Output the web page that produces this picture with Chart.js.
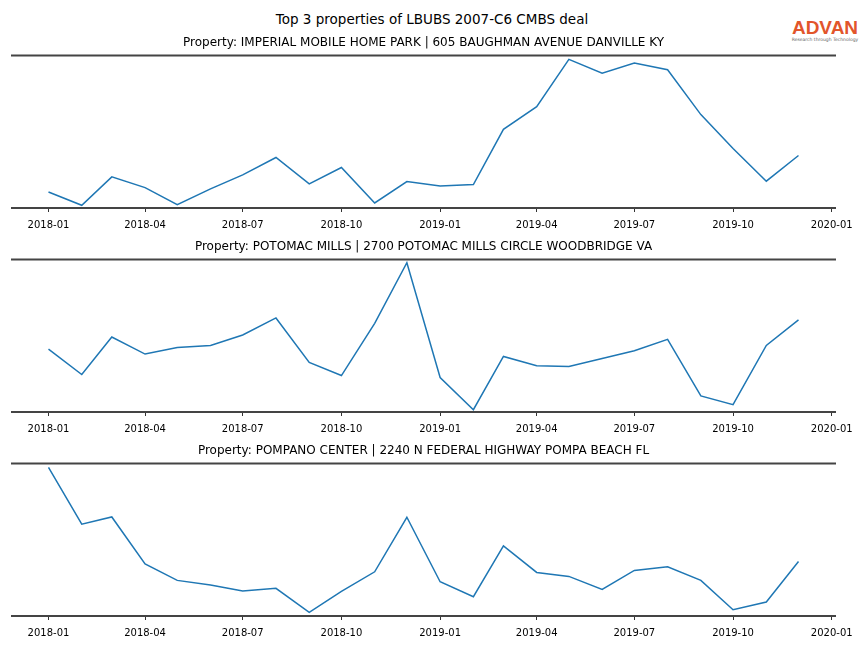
<!DOCTYPE html>
<html>
<head>
<meta charset="utf-8">
<script src="https://cdn.jsdelivr.net/npm/chart.js@4.4.1/dist/chart.umd.min.js"></script>
<style>
  html, body { margin: 0; padding: 0; background: #fff; }
  body { width: 864px; height: 648px; position: relative; overflow: hidden; font-family: 'DejaVu Sans', sans-serif; }
  #suptitle { position: absolute; left: 0; width: 864px; top: 11px; text-align: center; font-size: 13.5px; color: #000; }
  .logo { position: absolute; left: 789px; top: 18px; width: 72px; text-align: center; }
  .logo .name { font-family: 'Liberation Sans', Arial, sans-serif; font-size: 19px; font-weight: bold; line-height: 19px; color: #e2552b; }
  .logo .tag { font-size: 4.5px; line-height: 6px; color: #666; white-space: nowrap; }
  .panel { position: absolute; left: 0; }
</style>
</head>
<body>
<div id="suptitle">Top 3 properties of LBUBS 2007-C6 CMBS deal</div>
<div class="logo"><div class="name">ADVAN</div><div class="tag">Research through Technology</div></div>
<canvas class="panel" id="p0" width="864" height="201" style="top:31px"></canvas>
<canvas class="panel" id="p1" width="864" height="201" style="top:235px"></canvas>
<canvas class="panel" id="p2" width="864" height="201" style="top:439px"></canvas>
<script>
// monthly visits (no y axis shown, arbitrary units)
const months = ['2018-01','2018-02','2018-03','2018-04','2018-05','2018-06','2018-07','2018-08','2018-09','2018-10','2018-11','2018-12',
                '2019-01','2019-02','2019-03','2019-04','2019-05','2019-06','2019-07','2019-08','2019-09','2019-10','2019-11','2019-12'];
const tickMonths = ['2018-01','2018-04','2018-07','2018-10','2019-01','2019-04','2019-07','2019-10','2020-01'];

const imperial = [16, 2.7, 31, 20.3, 3.3, 19, 33, 50.3, 24, 40.3, 5, 26.3,
                  22, 23.3, 78.3, 101, 148, 134.3, 144.3, 137.7, 93, 59.3, 26.7, 52.3];
const potomac  = [62.7, 37.3, 74.7, 57.7, 64.3, 66.3, 76.7, 93.7, 49.3, 36.3, 88.3, 148.7,
                  34.3, 2.3, 55.3, 46, 45.3, 53.3, 61, 72.3, 16, 7.3, 66.3, 91.7];
const pompano  = [149, 92, 99.3, 52.3, 35.7, 31, 25, 27.7, 3.7, 24.7, 44.3, 99,
                  34.3, 19.3, 70.3, 43.7, 39.7, 26.7, 45.7, 49.3, 35.7, 6.3, 14, 54.7];

const titles = [
  'Property: IMPERIAL MOBILE HOME PARK | 605 BAUGHMAN AVENUE DANVILLE KY',
  'Property: POTOMAC MILLS | 2700 POTOMAC MILLS CIRCLE WOODBRIDGE VA',
  'Property: POMPANO CENTER | 2240 N FEDERAL HIGHWAY POMPA BEACH FL'
];
const series = [imperial, potomac, pompano];
const yTop = [152, 152, 153];

const dayOf = s => { const [y, m] = s.split('-').map(Number); return Date.UTC(y, m - 1, 1) / 864e5; };
const xs = months.map(dayOf);
const span = xs[xs.length - 1] - xs[0];
const xMin = xs[0] - 0.05 * span, xMax = xs[xs.length - 1] + 0.05 * span;

// top and bottom spines only
const spines = {
  id: 'spines',
  afterDatasetsDraw(chart) {
    const { ctx, chartArea: { left, right, top, bottom } } = chart;
    ctx.save();
    ctx.strokeStyle = '#444';
    ctx.lineWidth = 2;
    ctx.beginPath();
    ctx.moveTo(left, top); ctx.lineTo(right, top);
    ctx.moveTo(left, bottom); ctx.lineTo(right, bottom);
    ctx.stroke();
    ctx.restore();
  }
};

series.forEach((vals, i) => {
  new Chart(document.getElementById('p' + i), {
    type: 'line',
    data: {
      datasets: [{
        data: vals.map((v, k) => ({ x: xs[k], y: v })),
        borderColor: '#1f77b4',
        borderWidth: 1.5,
        pointRadius: 0,
        tension: 0,
        fill: false
      }]
    },
    options: {
      responsive: false,
      animation: false,
      devicePixelRatio: 1,
      layout: { padding: { left: 11, right: 28, top: 0, bottom: 0 } },
      plugins: {
        legend: { display: false },
        tooltip: { enabled: false },
        title: {
          display: true,
          text: titles[i],
          color: '#000',
          font: { family: 'DejaVu Sans', size: 12, weight: 'normal' },
          padding: { top: 5, bottom: 5 }
        }
      },
      scales: {
        x: {
          type: 'linear',
          min: xMin,
          max: xMax,
          afterBuildTicks: s => { s.ticks = tickMonths.map(t => ({ value: dayOf(t) })); },
          afterFit: s => { s.height = 24; },
          ticks: {
            autoSkip: false,
            maxRotation: 0,
            padding: 7,
            color: '#000',
            font: { family: 'DejaVu Sans', size: 10 },
            callback: v => new Date(v * 864e5).toISOString().slice(0, 7)
          },
          grid: { drawOnChartArea: false, drawTicks: true, tickLength: 4, color: '#333' },
          border: { display: false }
        },
        y: { display: false, min: 0, max: yTop[i] }
      }
    },
    plugins: [spines]
  });
});
</script>
</body>
</html>
